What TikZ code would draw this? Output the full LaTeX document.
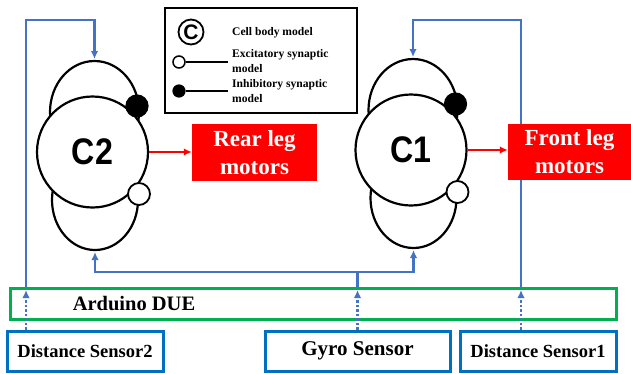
\documentclass[tikz,border=0pt]{standalone}
\usepackage{fontspec}
\setmainfont{Liberation Serif}
\newfontfamily\cellfont{Liberation Sans}
\usetikzlibrary{arrows.meta,calc}
\definecolor{linkblue}{RGB}{68,114,196}
\definecolor{sensorblue}{RGB}{0,112,192}
\definecolor{boardgreen}{RGB}{0,176,80}
\definecolor{motorred}{RGB}{255,0,0}

\tikzset{
  cellline/.style={line width=2.2pt},
  cellbody/.style={circle, draw, line width=2.2pt, fill=white, minimum size=111pt, inner sep=0pt,
    font=\cellfont\bfseries\fontsize{37}{37}\selectfont},
  inhib/.style={circle, draw, fill=black, line width=1.2pt, minimum size=22pt, inner sep=0pt},
  excit/.style={circle, draw, fill=white, line width=1.8pt, minimum size=22pt, inner sep=0pt},
  keyinhib/.style={circle, draw, fill=black, line width=1.2pt, minimum size=12pt, inner sep=0pt},
  keyexcit/.style={circle, draw, fill=white, line width=1.5pt, minimum size=12pt, inner sep=0pt},
  keytext/.style={anchor=west, align=left, inner sep=0pt, font=\bfseries\fontsize{11.6}{14.5}\selectfont},
  feed/.style={draw=linkblue, line width=2.8pt},
  bluetip/.style={-{Latex[length=8pt,width=7.5pt]}},
  bothtips/.style={{Latex[length=8pt,width=7.5pt]}-{Latex[length=8pt,width=7.5pt]}},
  sense/.style={draw=linkblue, line width=2.8pt, dash pattern=on 2.5pt off 2pt,
    -{Latex[length=8pt,width=7.5pt]}},
  drive/.style={draw=motorred, line width=2pt, -{Latex[length=8pt,width=7.5pt]}},
  motor/.style={fill=motorred, text=white, align=center, inner sep=0pt,
    font=\bfseries\fontsize{23}{28}\selectfont},
  sensor/.style={draw=sensorblue, line width=3pt, minimum height=40pt, inner sep=0pt,
    font=\bfseries\fontsize{18.5}{20}\selectfont},
  pics/neuron/.style={code={
    % self-feedback loops above and below the cell body
    \draw[cellline] (2,-40) ellipse [x radius=44.5pt, y radius=51pt];
    \draw[cellline] (2.5,48) ellipse [x radius=43pt, y radius=50pt];
    \node[cellbody] (-body) at (0,0) {\scalebox{0.87}[1]{#1}};
    \node[inhib] (-inh) at (44.5,-46) {};
    \node[excit] (-exc) at (46.5,42) {};
    \coordinate (-top) at (2,-93);
    \coordinate (-bottom) at (2.5,100);
  }}
}

\begin{document}
\begin{tikzpicture}[x=1pt, y=-1pt]
\useasboundingbox (0,0) rectangle (631,373);

% legend
\node[draw, line width=1.8pt, minimum width=192pt, minimum height=105pt, anchor=north west, inner sep=0pt]
  (legend) at (164,7) {};
\node[circle, draw, line width=1.8pt, minimum size=25pt, inner sep=0pt,
  font=\cellfont\bfseries\fontsize{21}{21}\selectfont] (keyC) at (191,32) {C};
\node[keytext] (keyCtext) at (232,32.5) {Cell body model};
\node[keyexcit] (keyE) at (179,62) {};
\coordinate (keyEend) at (228,62);
\draw[line width=1.6pt] (keyE) -- (keyEend);
\node[keytext] (keyEtext) at (232,61) {Excitatory synaptic\\model};
\node[keyinhib] (keyI) at (179,91) {};
\coordinate (keyIend) at (228,91);
\draw[line width=1.6pt] (keyI) -- (keyIend);
\node[keytext] (keyItext) at (232,91) {Inhibitory synaptic\\model};

% neurons
\pic (c2) at (92.5,152) {neuron=C2};
\pic (c1) at (411,150) {neuron=C1};

% board
\node[draw=boardgreen, line width=2.5pt, minimum width=606pt, minimum height=31pt,
  anchor=north west, inner sep=0pt] (ard) at (9,287) {};
\node[font=\bfseries\fontsize{20.5}{22}\selectfont, inner sep=0pt] (ardtext) at (134,304) {Arduino DUE};

% sensors
\node[sensor, minimum width=156pt] (ds2) at (85,351) {Distance Sensor2};
\node[sensor, minimum width=185pt, font=\bfseries\fontsize{21}{22}\selectfont] (gyro) at (357.5,351) {Gyro Sensor};
\node[sensor, minimum width=156pt] (ds1) at (538,351) {Distance Sensor1};

% feedback wiring from the board to the cells
\coordinate (fbL) at (26,20);
\coordinate (fbR) at (521,20);
\coordinate (bus) at (357.5,272);
\coordinate (ardL) at (ard.north -| fbL);
\coordinate (ardR) at (ard.north -| fbR);
\coordinate (ardG) at (ard.north -| gyro.north);
\draw[feed, bluetip] (ardL) -- (fbL) -| (c2-top);
\draw[feed, bluetip] (ardR) -- (fbR) -| (c1-top);
\draw[feed, bothtips] (c2-bottom) |- (bus) -| (c1-bottom);
\draw[feed] (ardG) -- (bus);

% sensor inputs
\draw[sense] (ds2.north -| fbL) -- ([yshift=-3pt]ardL);
\draw[sense] (gyro.north) -- ([yshift=-3pt]ardG);
\draw[sense] (ds1.north -| fbR) -- ([yshift=-3pt]ardR);

% motor outputs
\node[motor, minimum width=125pt, minimum height=57pt] (rear) at (254.5,152.5) {Rear leg\\motors};
\node[motor, minimum width=123pt, minimum height=56pt] (front) at (569.5,152) {Front leg\\motors};
\draw[drive] (c2-body.east) -- (c2-body.east -| rear.west);
\draw[drive] (c1-body.east) -- (c1-body.east -| front.west);
\end{tikzpicture}
\end{document}
